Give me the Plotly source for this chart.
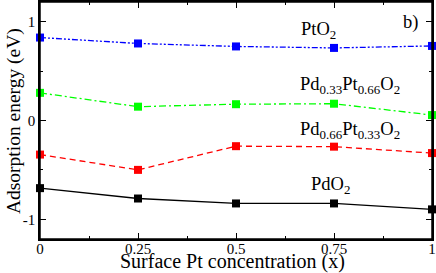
import plotly.graph_objects as go

x = [0, 0.25, 0.5, 0.75, 1]
pto2 = [0.84, 0.78, 0.75, 0.735, 0.755]
pd33 = [0.28, 0.14, 0.165, 0.17, 0.055]
pd66 = [-0.345, -0.50, -0.26, -0.265, -0.33]
pdo2 = [-0.685, -0.79, -0.84, -0.84, -0.90]
xticks = [0, 0.25, 0.5, 0.75, 1]
xticktext = ["0", "0.25", "0.5", "0.75", "1"]
yticks = [-1, 0, 1]
yticktext = ["-1", "0", "1"]

series = [
    (pto2, "#0000ff", "6px,2px,2px,2px,2px,2px"),
    (pd33, "#00ff00", "7px,3px,2px,3px"),
    (pd66, "#ff0000", "6px,4px"),
    (pdo2, "#000000", "solid"),
]

font = "Liberation Serif"
fig = go.Figure()
for y, c, d in series:
    fig.add_trace(go.Scatter(
        x=x, y=y, mode="lines+markers",
        line=dict(color=c, width=1.3, dash=d),
        marker=dict(symbol="square", size=8, color=c),
        cliponaxis=False, showlegend=False))
# empty trace so the mirrored (top/right) tick axes get drawn
fig.add_trace(go.Scatter(x=[], y=[], xaxis="x2", yaxis="y2", showlegend=False, hoverinfo="skip"))

labels = [
    (0.71, 0.91, "PtO<sub>2</sub>"),
    (0.79, 0.35, "Pd<sub>0.33</sub>Pt<sub>0.66</sub>O<sub>2</sub>"),
    (0.79, -0.10, "Pd<sub>0.66</sub>Pt<sub>0.33</sub>O<sub>2</sub>"),
    (0.74, -0.66, "PdO<sub>2</sub>"),
    (0.945, 0.99, "b)"),
]
for lx, ly, t in labels:
    fig.add_annotation(x=lx, y=ly, text=t, showarrow=False,
                       font=dict(family=font, size=18.5, color="black"))

fig.add_annotation(xref="paper", yref="paper", x=0.49, y=-0.096, xanchor="center", yanchor="middle",
                   text="Surface Pt concentration (x)", showarrow=False,
                   font=dict(family=font, size=20, color="black"))
fig.add_annotation(xref="paper", yref="paper", x=-0.066, y=0.498, xanchor="center", yanchor="middle",
                   textangle=-90, text="Adsorption energy (eV)", showarrow=False,
                   font=dict(family=font, size=19.5, color="black"))

fig.add_shape(type="rect", xref="paper", yref="paper", x0=0, x1=1, y0=0, y1=1,
              line=dict(color="black", width=1.5), layer="above")

common = dict(showline=True, linecolor="black", linewidth=1.5, mirror=False,
              ticks="inside", ticklen=6, tickwidth=1, tickcolor="black",
              showgrid=False, zeroline=False,
              tickfont=dict(family=font, size=15, color="black"))
xminor = dict(dtick=0.125, tick0=0, ticks="inside", ticklen=3, tickcolor="black", showgrid=False)
yminor = dict(dtick=0.5, tick0=0, ticks="inside", ticklen=3, tickcolor="black", showgrid=False)

fig.update_layout(
    xaxis=dict(range=[0, 1], tickvals=xticks, ticktext=xticktext, minor=xminor,
               ticklabelstandoff=-5, **common),
    yaxis=dict(range=[-1.2, 1.2], tickvals=yticks, ticktext=yticktext, minor=yminor, **common),
    xaxis2=dict(range=[0, 1], tickvals=xticks, minor=xminor, overlaying="x", side="top",
                anchor="y", showticklabels=False, **common),
    yaxis2=dict(range=[-1.2, 1.2], tickvals=yticks, minor=yminor, overlaying="y", side="right",
                anchor="x", showticklabels=False, **common),
    width=436, height=273, margin=dict(l=40, r=4, t=2, b=34, autoexpand=False),
    plot_bgcolor="white", paper_bgcolor="white",
    font=dict(family=font, color="black"))
fig.write_html("out.html", config={"displayModeBar": False},
               post_script="document.body.style.margin='0';")
